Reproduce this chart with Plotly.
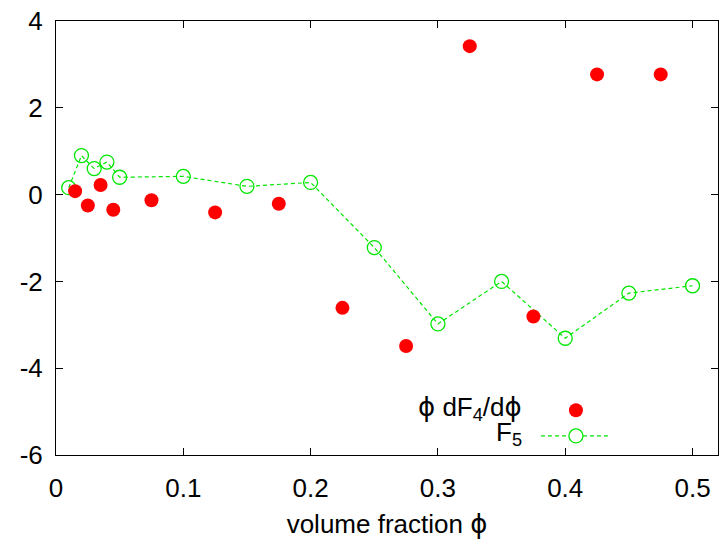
import plotly.graph_objects as go

# phi * dF4/dphi (filled red points)
phi_d = [0.015, 0.025, 0.035, 0.045, 0.075, 0.125, 0.175, 0.225, 0.275, 0.325, 0.375, 0.425, 0.475]
dF4 = [0.08, -0.25, 0.22, -0.35, -0.13, -0.41, -0.21, -2.61, -3.49, 3.42, -2.81, 2.77, 2.77]

# F5 (open green circles joined by a dashed line)
phi_f = [0.01, 0.02, 0.03, 0.04, 0.05, 0.1, 0.15, 0.2, 0.25, 0.3, 0.35, 0.4, 0.45, 0.5]
F5 = [0.16, 0.90, 0.60, 0.75, 0.40, 0.42, 0.19, 0.28, -1.22, -2.98, -2.0, -3.31, -2.27, -2.1]

x_ticks = [0, 0.1, 0.2, 0.3, 0.4, 0.5]
x_ticklabels = ["0", "0.1", "0.2", "0.3", "0.4", "0.5"]
y_ticks = [-6, -4, -2, 0, 2, 4]
y_ticklabels = ["-6", "-4", "-2", "0", "2", "4"]

RED = "#ff0000"
GREEN = "#00e600"
FONT = "Liberation Sans, Arial, sans-serif"
PHI_FONT = "DejaVu Sans, sans-serif"
FS = 26
PHI = "<span style='font-family:DejaVu Sans'>ϕ</span>"

fig = go.Figure()
fig.add_trace(go.Scatter(
    x=phi_f, y=F5, mode="lines+markers", name="F<sub>5</sub>",
    line=dict(color=GREEN, width=1.2, dash="4px,3px"),
    marker=dict(symbol="circle-open", size=14, color=GREEN, line=dict(width=1.3, color=GREEN)),
    showlegend=False,
))
fig.add_trace(go.Scatter(
    x=phi_d, y=dF4, mode="markers", name="ϕ dF<sub>4</sub>/dϕ",
    marker=dict(symbol="circle", size=14, color=RED, line=dict(width=0)),
    showlegend=False,
))

# key in the lower right: text on the left, sample on the right
key_x_text = 0.7074
key_x_mark = 0.7854
key_rows = [0.103, 0.044]
annotations = [
    dict(text=f"{PHI} dF<sub>4</sub>/d{PHI}", x=key_x_text, y=key_rows[0] + 0.004, xref="paper", yref="paper",
         xanchor="right", yanchor="middle", showarrow=False, font=dict(family=FONT, size=FS, color="black")),
    dict(text="F<sub>5</sub>", x=key_x_text, y=key_rows[1] + 0.006, xref="paper", yref="paper",
         xanchor="right", yanchor="middle", showarrow=False, font=dict(family=FONT, size=FS, color="black")),
]
shapes = [
    dict(type="circle", xref="paper", yref="paper", xsizemode="pixel", ysizemode="pixel",
         xanchor=key_x_mark, yanchor=key_rows[0], x0=-7, x1=7, y0=-7, y1=7,
         fillcolor=RED, line=dict(width=0)),
    dict(type="line", xref="paper", yref="paper", x0=0.7326, x1=0.8382, y0=key_rows[1], y1=key_rows[1],
         line=dict(color=GREEN, width=1.2, dash="4px,3px")),
    dict(type="circle", xref="paper", yref="paper", xsizemode="pixel", ysizemode="pixel",
         xanchor=key_x_mark, yanchor=key_rows[1], x0=-7, x1=7, y0=-7, y1=7,
         fillcolor="white", line=dict(color=GREEN, width=1.3)),
]

axis_common = dict(
    showline=True, linecolor="black", linewidth=1, mirror="ticks",
    ticks="inside", ticklen=7, tickwidth=1, tickcolor="black",
    showgrid=False, zeroline=False,
    tickfont=dict(family=FONT, size=FS, color="black"),
)

fig.update_layout(
    width=725, height=540,
    margin=dict(l=56, r=6, t=17, b=85),
    paper_bgcolor="white", plot_bgcolor="white",
    xaxis=dict(range=[0, 0.52], tickvals=x_ticks, ticktext=x_ticklabels, ticklabelstandoff=10,
               title=dict(text=f"volume fraction {PHI}", font=dict(family=FONT, size=FS, color="black"), standoff=12),
               **axis_common),
    yaxis=dict(range=[-6, 4], tickvals=y_ticks, ticktext=y_ticklabels, ticklabelstandoff=7, **axis_common),
    annotations=annotations, shapes=shapes,
)

fig.write_html("out.html")
